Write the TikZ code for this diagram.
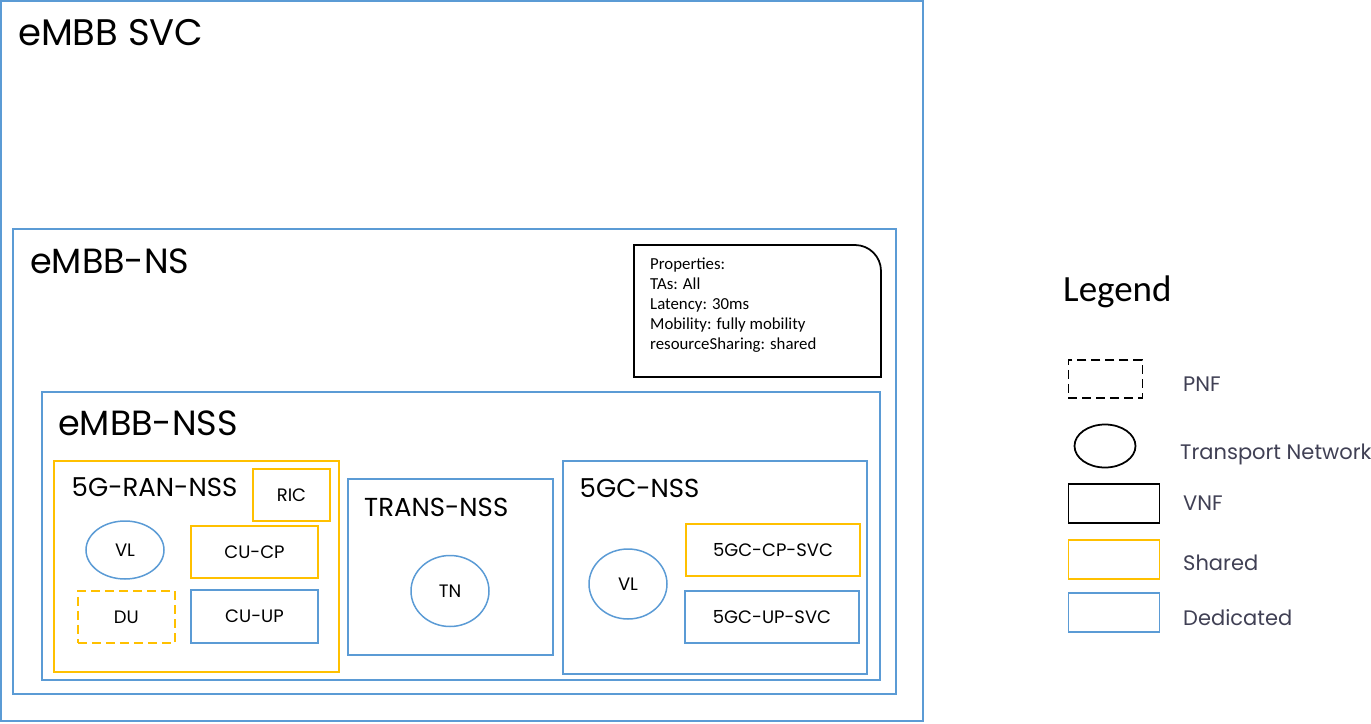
\documentclass[tikz,border=0pt]{standalone}
\usepackage{fontspec}
\setmainfont{Carlito}
\newfontfamily\gothic{Poppins}
\usetikzlibrary{shapes.geometric}
\definecolor{dedblue}{HTML}{5B9BD5}
\definecolor{shyellow}{HTML}{FFC000}
\definecolor{legtext}{HTML}{404054}
\tikzset{
  dedbox/.style={draw=dedblue, line width=1.75pt, rectangle, inner sep=0pt, outer sep=0pt, anchor=north west},
  shbox/.style={draw=shyellow, line width=1.75pt, rectangle, inner sep=0pt, outer sep=0pt, anchor=north west},
  ellip/.style={draw=dedblue, line width=1.5pt, ellipse, inner sep=0pt},
  bigttl/.style={anchor=base west, inner sep=0pt, font=\gothic\fontsize{35}{40}\selectfont},
  midttl/.style={anchor=base west, inner sep=0pt, font=\gothic\fontsize{26}{32}\selectfont},
  small/.style={font=\gothic\fontsize{18}{21}\selectfont},
  legtxt/.style={anchor=base west, inner sep=0pt, text=legtext, font=\gothic\fontsize{21}{24}\selectfont},
  legbox/.style={draw=black, line width=1.75pt, rectangle, inner sep=0pt, anchor=north west},
}
\begin{document}
\begin{tikzpicture}[x=1pt,y=-1pt]
\useasboundingbox (0,0) rectangle (1371,723);
% outer containers
\node[dedbox, minimum width=922pt, minimum height=720pt] (svc) at (1,1) {};
\node[bigttl, font=\gothic\fontsize{37}{42}\selectfont] (svcT) at (18,45) {eMBB SVC};
\node[dedbox, minimum width=883pt, minimum height=465pt] (ns) at (13,229) {};
\node[bigttl] (nsT) at (30,273.5) {eMBB-NS};
% properties
\draw[line width=1.75pt] (634,245) -- (855,245) arc[start angle=90, end angle=0, radius=26pt] -- (881,377) -- (634,377) -- cycle;
\node[anchor=north west, inner sep=0pt, align=left, font=\fontsize{16.8}{20}\selectfont] (props) at (650,258)
  {Properties:\\TAs: All\\Latency: 30ms\\Mobility: fully mobility\\resourceSharing: shared};
\node[dedbox, minimum width=838pt, minimum height=288pt] (nss) at (42,392) {};
\node[bigttl] (nssT) at (58,435) {eMBB-NSS};
% RAN
\node[shbox, minimum width=285pt, minimum height=211pt] (ran) at (54,461) {};
\node[midttl] (ranT) at (71.5,496.5) {5G-RAN-NSS};
\node[shbox, minimum width=77pt, minimum height=52pt] (ric) at (253,469) {};
\node[small] at (ric.center) {RIC};
\node[shbox, minimum width=127pt, minimum height=52pt] (cucp) at (191,526) {};
\node[small] at (cucp.center) {CU-CP};
\node[dedbox, minimum width=127pt, minimum height=53pt] (cuup) at (191,590) {};
\node[small] at (cuup.center) {CU-UP};
\node[draw=shyellow, line width=1.75pt, dash pattern=on 9pt off 5pt, rectangle, inner sep=0pt, anchor=north west, minimum width=97pt, minimum height=52pt] (du) at (77,590) {};
\node[small] at (du.center) {DU};
\node[ellip, minimum width=78pt, minimum height=58pt, small] (vl1) at (125,550) {VL};
% TRANS
\node[dedbox, minimum width=205pt, minimum height=176pt] (trans) at (348,479) {};
\node[midttl] (transT) at (364,516) {TRANS-NSS};
\node[ellip, minimum width=78pt, minimum height=71pt, small] (tn) at (450,591) {TN};
% 5GC
\node[dedbox, minimum width=304pt, minimum height=213pt] (gc) at (563,461) {};
\node[midttl] (gcT) at (579.5,497.5) {5GC-NSS};
\node[ellip, minimum width=78pt, minimum height=70pt, small] (vl2) at (628,584) {VL};
\node[shbox, minimum width=174pt, minimum height=52pt] (cp) at (686,524) {};
\node[small] at (cp.center) {5GC-CP-SVC};
\node[dedbox, minimum width=174pt, minimum height=52pt] (up) at (685,591) {};
\node[small] at (up.center) {5GC-UP-SVC};
% legend
\node[anchor=base west, inner sep=0pt, font=\fontsize{37}{44}\selectfont] (legT) at (1063,301) {Legend};
\node[legbox, dash pattern=on 9pt off 5pt, minimum width=74pt, minimum height=38pt] (lpnf) at (1067.5,359) {};
\node[legtxt] (lpnfT) at (1183,391.5) {PNF};
\node[draw=black, line width=1.75pt, ellipse, inner sep=0pt, minimum width=61pt, minimum height=43pt] (ltn) at (1105,446) {};
\node[legtxt] (ltnT) at (1180,459) {Transport Network};
\node[legbox, minimum width=91pt, minimum height=39pt] (lvnf) at (1067.5,483) {};
\node[legtxt] (lvnfT) at (1183,510) {VNF};
\node[legbox, draw=shyellow, minimum width=91pt, minimum height=39pt] (lsh) at (1067.5,539) {};
\node[legtxt] (lshT) at (1183,570) {Shared};
\node[legbox, draw=dedblue, minimum width=91pt, minimum height=39pt] (lded) at (1067.5,592) {};
\node[legtxt] (ldedT) at (1183,625) {Dedicated};
\end{tikzpicture}
\end{document}
